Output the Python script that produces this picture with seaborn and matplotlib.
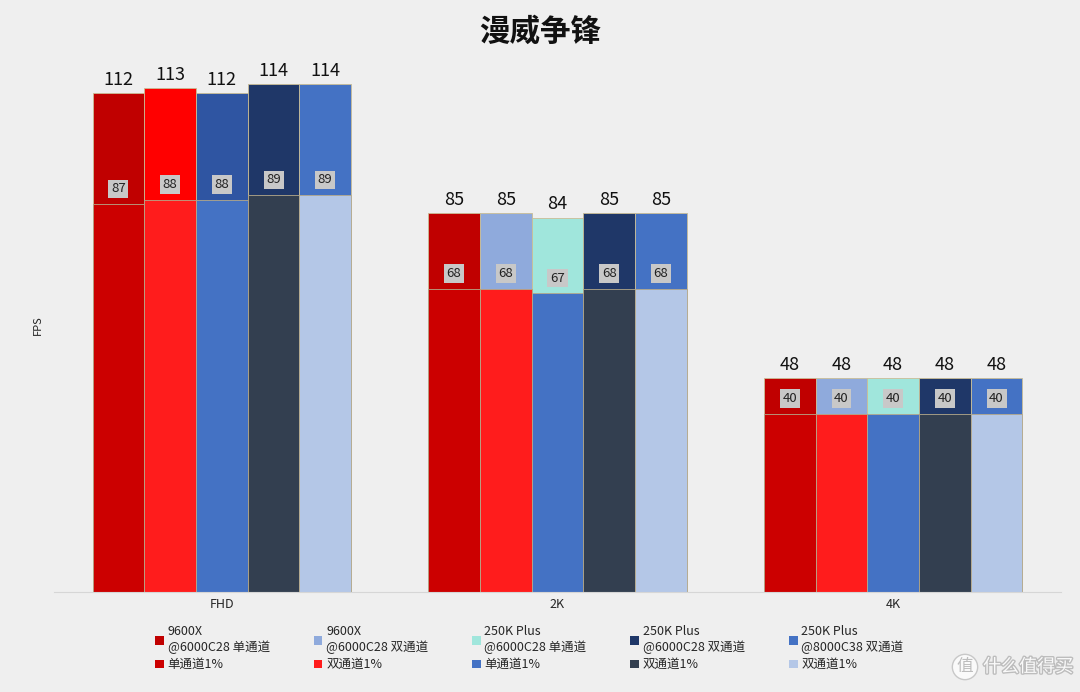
import numpy as np
import pandas as pd
import matplotlib
matplotlib.use("Agg")
import matplotlib.pyplot as plt
import matplotlib.patheffects as pe
import seaborn as sns
from matplotlib.patches import Patch

# ── Дані ────────────────────────────────────────────
groups = ["FHD", "2K", "4K"]
series = ["9600X\n@6000C28 单通道", "9600X\n@6000C28 双通道",
          "250K Plus\n@6000C28 单通道", "250K Plus\n@6000C28 双通道",
          "250K Plus\n@8000C38 双通道"]
low_names = ["单通道1%", "双通道1%", "单通道1%", "双通道1%", "双通道1%"]

avg_fps = {"FHD": [112, 113, 112, 114, 114],
           "2K":  [85, 85, 84, 85, 85],
           "4K":  [48, 48, 48, 48, 48]}
low_fps = {"FHD": [87, 88, 88, 89, 89],
           "2K":  [68, 68, 67, 68, 68],
           "4K":  [40, 40, 40, 40, 40]}

# кольори
avg_colors = ["#C00000", "#8FAADC", "#A0E6DC", "#1F3768", "#4472C4"]
fhd_colors = ["#C00000", "#FF0000", "#2F55A2", "#1F3768", "#4472C4"]
low_colors = ["#CC0000", "#FF1C1C", "#4472C4", "#333F50", "#B4C7E7"]
BG = "#EFEFEF"

rows = []
for g in groups:
    for k, s in enumerate(series):
        rows.append({"group": g, "series": s,
                     "avg": avg_fps[g][k], "low": low_fps[g][k]})
df = pd.DataFrame(rows)

sns.set_style("white")
plt.rcParams["font.family"] = ["Noto Sans CJK SC", "DejaVu Sans"]

fig = plt.figure(figsize=(10.8, 6.92), dpi=100, facecolor=BG)
ax = fig.add_axes([54/1080, 1-592/692, (1061-54)/1080, (592-57)/692])
ax.set_facecolor(BG)

sns.barplot(data=df, x="group", y="avg", hue="series", order=groups,
            hue_order=series, palette=avg_colors, saturation=1, width=0.77,
            gap=0, edgecolor="#C9BD95", linewidth=0.6, legend=False, ax=ax)
n_avg = len(ax.containers)
# FHD має інші кольори
for j, cont in enumerate(ax.containers):
    cont[0].set_facecolor(fhd_colors[j])

sns.barplot(data=df, x="group", y="low", hue="series", order=groups,
            hue_order=series, palette=low_colors, saturation=1, width=0.77,
            gap=0, edgecolor="#B5A98A", linewidth=0.6, legend=False, ax=ax)

for j, cont in enumerate(ax.containers[:n_avg]):
    ax.bar_label(cont, labels=[str(avg_fps[g][j]) for g in groups],
                 padding=3, fontsize=13, color="#111111")

for j, cont in enumerate(ax.containers[n_avg:]):
    for i, bar in enumerate(cont):
        ax.annotate(str(low_fps[groups[i]][j]),
                    (bar.get_x() + bar.get_width()/2, bar.get_height()),
                    xytext=(0, 11), textcoords="offset points",
                    ha="center", va="center", fontsize=9.5, color="#222222",
                    bbox=dict(boxstyle="square,pad=0.2", fc="#C8C8C8", ec="none"))

ax.set_ylim(0, 120)
ax.set_xlim(-0.5, 2.5)
ax.set_xlabel(""); ax.set_ylabel("")
ax.set_yticks([])
for sp in ["top", "left", "right"]:
    ax.spines[sp].set_visible(False)
ax.spines["bottom"].set_color("#D6D6D6")
ax.tick_params(axis="x", length=0, labelsize=9, pad=4)

fig.text(0.5, 1-32/692, "漫威争锋", ha="center", va="center",
         fontsize=22, fontweight="bold", color="#111111")
fig.text(38/1080, 1-325/692, "FPS", rotation=90, ha="center", va="center",
         fontsize=8, color="#222222")

handles, labels = [], []
for j in range(5):
    handles.append(Patch(fc=avg_colors[j], ec="none"))
    labels.append(series[j])
    handles.append(Patch(fc=low_colors[j], ec="none"))
    labels.append(low_names[j])
fig.legend(handles, labels, ncol=5, loc="upper left",
           bbox_to_anchor=(144/1080, 1-614/692), frameon=False, fontsize=9,
           handlelength=0.7, handleheight=0.7, handletextpad=0.3,
           columnspacing=3.5, labelspacing=0.35)

# водяний знак
stroke = [pe.withStroke(linewidth=2, foreground="#BDBDBD")]
fig.text(965/1080, 1-667/692, "值", ha="center", va="center", fontsize=12,
         color="#BDBDBD",
         bbox=dict(boxstyle="circle,pad=0.25", fc="#FAFAFA", ec="#C8C8C8", lw=1))
fig.text(983/1080, 1-667/692, "什么值得买", ha="left", va="center",
         fontsize=13, color="#FAFAFA", path_effects=stroke)

plt.savefig("out.png", dpi=100, facecolor=BG)
